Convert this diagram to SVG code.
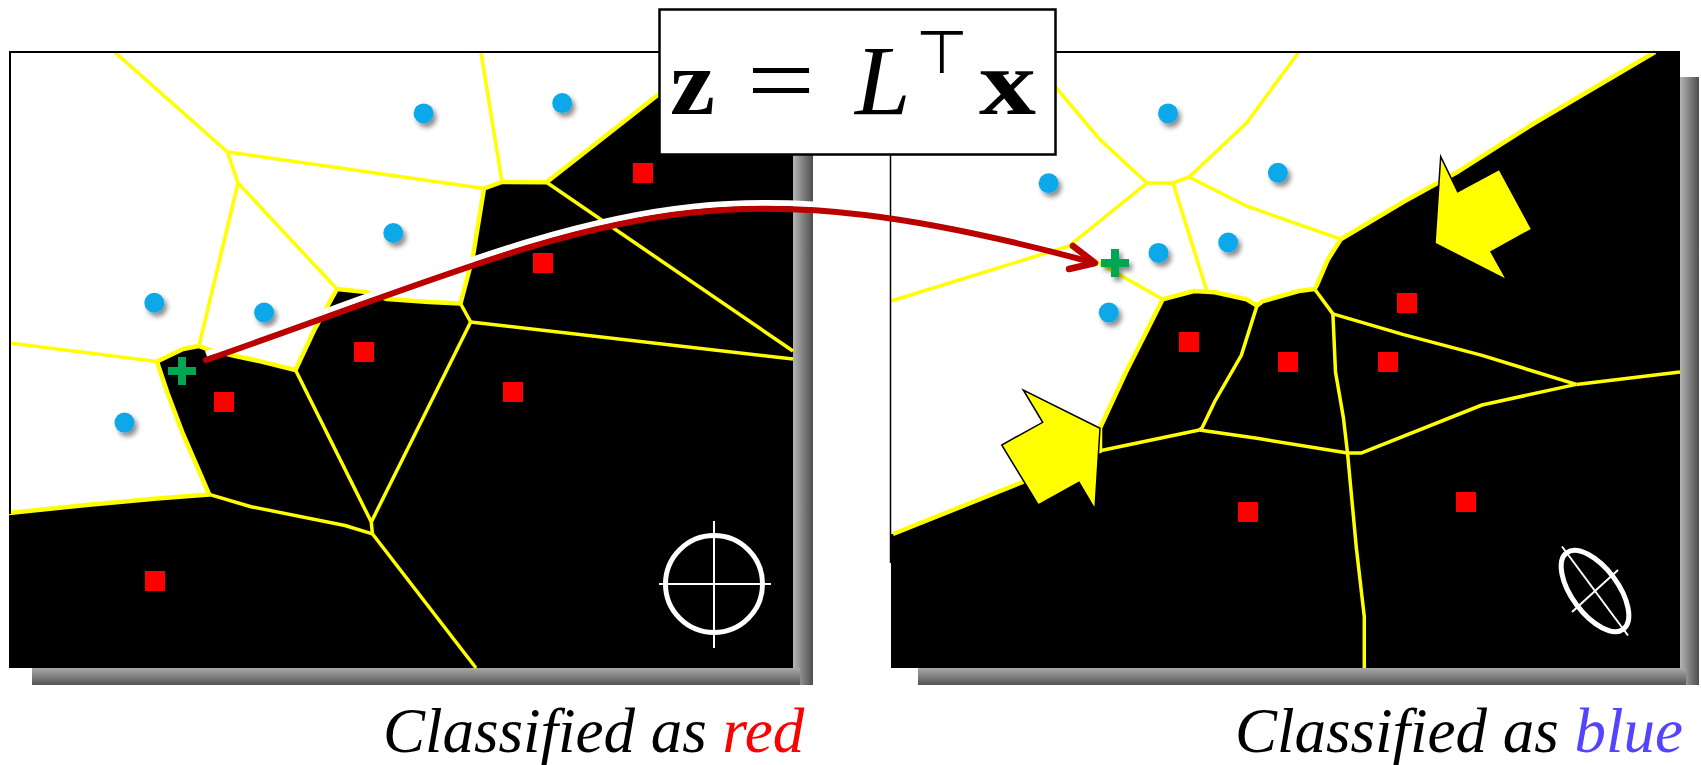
<svg xmlns="http://www.w3.org/2000/svg" width="1701" height="765" viewBox="0 0 1701 765">
<defs>
<style>
.bg{fill:#000}
.wr{fill:#fff}
.vl{fill:none;stroke:#ffff00;stroke-width:3.5;stroke-linejoin:round}
.bd{fill:none;stroke:#ffff00;stroke-width:4.5;stroke-linejoin:round}
.dot{fill:#10a8ea;filter:url(#ds)}
.sq{fill:#ff0000}
.plus{fill:#00a651}
.mk{fill:none;stroke:#fff;stroke-width:5}
.mkl{stroke:#fff;stroke-width:2}
.ya{fill:#ffff00;stroke:#000;stroke-width:1.5}
.fr{fill:none;stroke:#000;stroke-width:2}
.lbl{font-family:"Liberation Serif","Times New Roman",serif;font-style:italic;font-size:63px;fill:#000}
.fm{font-family:"Liberation Serif","Times New Roman",serif;fill:#000}
</style>
<linearGradient id="shR" x1="0" y1="0" x2="1" y2="0"><stop offset="0" stop-color="#b4b4b4"/><stop offset="1" stop-color="#4e4e4e"/></linearGradient>
<linearGradient id="shB" x1="0" y1="0" x2="0" y2="1"><stop offset="0" stop-color="#a8a8a8"/><stop offset="1" stop-color="#555"/></linearGradient>
<filter id="ds" x="-60%" y="-60%" width="220%" height="220%"><feDropShadow dx="3" dy="4" stdDeviation="2.5" flood-color="#000" flood-opacity="0.45"/></filter>
<clipPath id="leftClip"><rect x="0" y="0" width="813" height="765"/></clipPath>
</defs>
<rect width="1701" height="765" fill="#fff"/>

<g id="left-panel">
<rect x="793" y="77" width="20" height="608" fill="url(#shR)"/>
<rect x="32" y="668" width="768" height="17" fill="url(#shB)"/>
<rect class="bg" x="9" y="52" width="784" height="616"/>
<polygon class="wr" points="9,52 712.5,52 546.5,182.3 502,182 484,188.5 473,256 460.5,303.5 429,302 387,299 366,292 337,289 314,330.5 295.5,370 261.5,361.6 235.4,356 206.6,349 198.7,346 183,349 157,361.6 167.4,392.7 183,434 209.2,494.4 157,498.5 89,504.7 9,513"/>
<polyline class="bd" points="712.5,52 546.5,182.3 502,182 484,188.5 473,256 460.5,303.5 429,302 387,299 366,292 337,289 314,330.5 295.5,370 261.5,361.6 235.4,356 206.6,349 198.7,346 183,349 157,361.6 167.4,392.7 183,434 209.2,494.4 157,498.5 89,504.7 9,513"/>
<polyline class="vl" points="115,52.4 227.5,152"/>
<polyline class="vl" points="227.5,152 484,188.5"/>
<polyline class="vl" points="481,52.4 502,182"/>
<polyline class="vl" points="227.5,152 238,183"/>
<polyline class="vl" points="238,183 199,346"/>
<polyline class="vl" points="238,183 337,289"/>
<polyline class="vl" points="9,343 157,361.6"/>
<polyline class="vl" points="546.5,182.3 793,351"/>
<polyline class="vl" points="460.5,303.5 470.7,322"/>
<polyline class="vl" points="470.7,322 793,359"/>
<polyline class="vl" points="470.7,322 371.3,522"/>
<polyline class="vl" points="295.5,370 371.3,522"/>
<polyline class="vl" points="371.3,522 372.4,533.8"/>
<polyline class="vl" points="209.2,494.4 251,506.7 345,525.5 372.4,533.8"/>
<polyline class="vl" points="372.4,533.8 476,668"/>
<line class="fr" x1="10" y1="52" x2="10" y2="514"/>
<circle class="dot" cx="423.6" cy="113.4" r="10"/>
<circle class="dot" cx="562.2" cy="103.1" r="10"/>
<circle class="dot" cx="393.3" cy="233" r="10"/>
<circle class="dot" cx="154.3" cy="302.7" r="10"/>
<circle class="dot" cx="264.1" cy="312.6" r="10"/>
<circle class="dot" cx="124.5" cy="422.6" r="10"/>
<rect class="sq" x="633" y="163" width="20" height="20"/>
<rect class="sq" x="533" y="253" width="20" height="20"/>
<rect class="sq" x="354" y="342" width="20" height="20"/>
<rect class="sq" x="214" y="392" width="20" height="20"/>
<rect class="sq" x="503" y="382" width="20" height="20"/>
<rect class="sq" x="145" y="571" width="20" height="20"/>
<circle class="mk" cx="714" cy="584" r="48.5"/>
<line class="mkl" x1="659" y1="584" x2="771" y2="584"/>
<line class="mkl" x1="714" y1="521" x2="714" y2="648"/>
<path class="plus" d="M178,357h8v10h10v8h-10v10h-8v-10h-10v-8h10z"/>
</g>

<g id="right-panel">
<rect x="1680" y="77" width="19" height="608" fill="url(#shR)"/>
<rect x="918" y="668" width="768" height="17" fill="url(#shB)"/>
<rect class="bg" x="891" y="52" width="789" height="616"/>
<polygon class="wr" points="891,52 1655,52 1534.5,123 1456,172.8 1403.6,201.8 1340.7,239.2 1327.6,260 1317,284.8 1314.6,289 1298.8,291 1262.2,301.4 1257,305.6 1246.5,299.3 1215,292.3 1194,291 1162.7,299.3 1147,330.5 1126,372 1100,428 1100,451 893,534 891,534"/>
<polyline class="bd" points="1655,52 1534.5,123 1456,172.8 1403.6,201.8 1340.7,239.2 1327.6,260 1317,284.8 1314.6,289 1298.8,291 1262.2,301.4 1257,305.6 1246.5,299.3 1215,292.3 1194,291 1162.7,299.3 1147,330.5 1126,372 1100,428 1100,451 893,534"/>
<polyline class="vl" points="1298.8,52 1246.5,123 1189,177"/>
<polyline class="vl" points="1189,177 1173,183 1147,183"/>
<polyline class="vl" points="1147,183 1100,139.6 1058,89.8 1022,52"/>
<polyline class="vl" points="1147,183 1069,246"/>
<polyline class="vl" points="1069,246 891,301"/>
<polyline class="vl" points="1069,246 1162.7,299.3"/>
<polyline class="vl" points="1173,183 1207,291.5"/>
<polyline class="vl" points="1189,177 1246.5,206 1340.7,239.2"/>
<polyline class="vl" points="1257,305.6 1241.3,355.4 1215,401 1202,428 1199.4,430"/>
<polyline class="vl" points="1199.4,430 1100,450.8"/>
<polyline class="vl" points="1199.4,430 1257,438.3 1347.5,453"/>
<polyline class="vl" points="1314.6,289 1332.9,313.9"/>
<polyline class="vl" points="1332.9,313.9 1335.5,372 1343.4,417.6 1347.5,452.9"/>
<polyline class="vl" points="1332.9,313.9 1403.6,334.6 1482,355.4 1576.3,384.4"/>
<polyline class="vl" points="1576.3,384.4 1680,372"/>
<polyline class="vl" points="1576.3,384.4 1482,405 1361.7,452.9 1347.5,452.9"/>
<polyline class="vl" points="1347.5,452.9 1356.4,548.3 1364.3,616.8 1364.3,668"/>
<line x1="890.5" y1="52" x2="890.5" y2="563" stroke="#000" stroke-width="1.5"/>
<circle class="dot" cx="1168" cy="113.4" r="10"/>
<circle class="dot" cx="1048.6" cy="183.2" r="10"/>
<circle class="dot" cx="1277.9" cy="172.8" r="10"/>
<circle class="dot" cx="1228.2" cy="242.5" r="10"/>
<circle class="dot" cx="1158.5" cy="252.9" r="10"/>
<circle class="dot" cx="1108.8" cy="312.6" r="10"/>
<rect class="sq" x="1397" y="293" width="20" height="20"/>
<rect class="sq" x="1179" y="332" width="20" height="20"/>
<rect class="sq" x="1278" y="352" width="20" height="20"/>
<rect class="sq" x="1378" y="352" width="20" height="20"/>
<rect class="sq" x="1238" y="502" width="20" height="20"/>
<rect class="sq" x="1456" y="492" width="20" height="20"/>
<ellipse class="mk" cx="1595" cy="591" rx="47.5" ry="23" transform="rotate(53.4 1595 591)"/>
<line class="mkl" x1="1562" y1="546.5" x2="1628" y2="635.5"/>
<line class="mkl" x1="1572" y1="612" x2="1618" y2="570"/>
<polygon class="ya" points="1440.7,156.7 1457.7,191.7 1499.3,169.3 1531.7,229.3 1491,251.7 1506.7,280 1435,243.3"/>
<polygon class="ya" points="1023.3,390 1042.7,422.3 1001.7,445 1038.3,505 1079,482.3 1095,509.3 1100,428.3"/>
<path class="plus" d="M1111,249h8v10h10v8h-10v10h-8v-10h-10v-8h10z" filter="url(#ds)"/>
</g>

<g id="connectors">
<path d="M206,360 C606,220 695,155 1095,263" transform="translate(0,-6)" stroke="#fff" stroke-width="6" fill="none" clip-path="url(#leftClip)"/>
<path d="M206,360 C606,220 695,155 1091,262" stroke="#bb0000" stroke-width="6" fill="none" stroke-linecap="round"/>
<path d="M1073,246 L1095,263 L1069,269" stroke="#bb0000" stroke-width="6.5" fill="none" stroke-linecap="round" stroke-linejoin="round"/>
</g>

<g id="frame">
<line class="fr" x1="9" y1="52" x2="1680" y2="52"/>
</g>

<g id="formula">
<rect x="659.5" y="9.5" width="396" height="145" fill="#fff" stroke="#000" stroke-width="2.5"/>
<text class="fm" x="670" y="114" font-size="94" font-weight="bold" textLength="45" lengthAdjust="spacingAndGlyphs">z</text>
<text class="fm" x="747" y="114" font-size="100" textLength="68" lengthAdjust="spacingAndGlyphs">=</text>
<text class="fm" x="855" y="114" font-size="100" font-style="italic">L</text>
<text x="942" y="73" font-family="'DejaVu Sans',sans-serif" font-size="60" text-anchor="middle" fill="#000">⊤</text>
<text class="fm" x="979" y="114" font-size="94" font-weight="bold" textLength="57" lengthAdjust="spacingAndGlyphs">x</text>
</g>

<g id="labels">
<text class="lbl" x="383" y="752">Classified as <tspan fill="#ff0000">red</tspan></text>
<text class="lbl" x="1235" y="752">Classified as <tspan fill="#5544ff">blue</tspan></text>
</g>
</svg>
